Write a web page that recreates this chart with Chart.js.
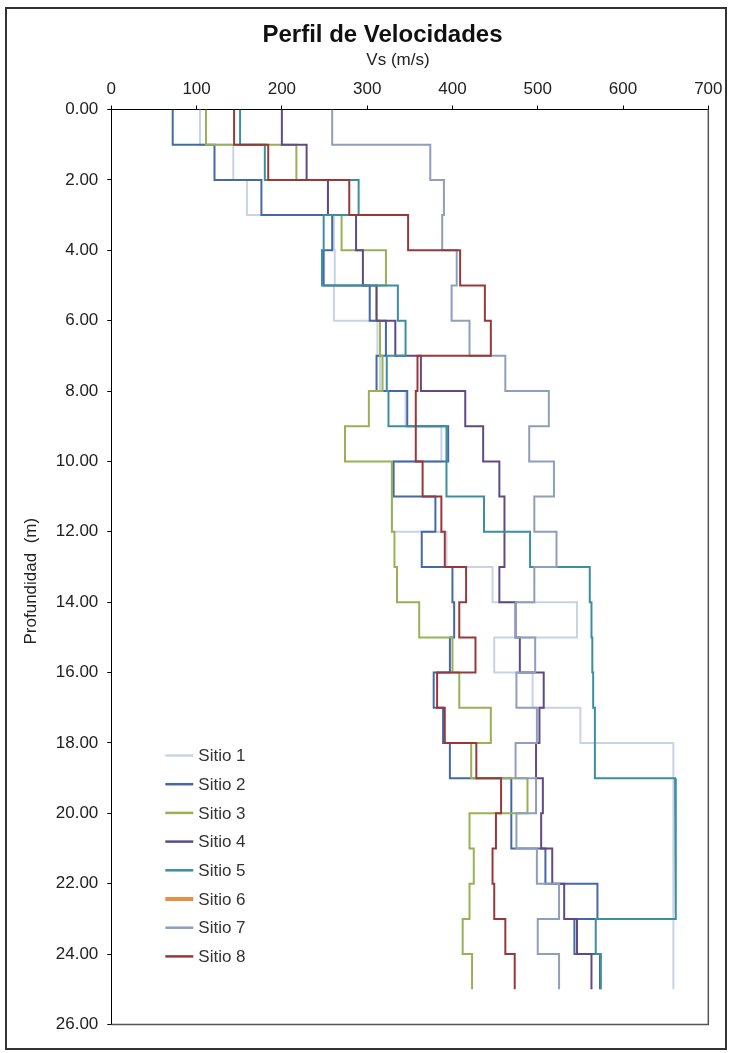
<!DOCTYPE html>
<html>
<head>
<meta charset="utf-8">
<title>Perfil de Velocidades</title>
<script src="https://cdn.jsdelivr.net/npm/chart.js@4/dist/chart.umd.min.js"></script>
<style>
    html, body { margin: 0; padding: 0; background: #fff; }
    #chart { display: block; }
</style>
</head>
<body>
<canvas id="chart" width="730" height="1053"></canvas>
<script>
// layer tops/bottoms (m), one Vs value per 1 m layer
const depths = [0, 1, 2, 3, 4, 5, 6, 7, 8, 9, 10, 11, 12, 13, 14, 15, 16, 17, 18, 19, 20, 21, 22, 23, 24, 25];

const sitio1 = [104, 143, 159, 261, 262, 261, 312, 315, 345, 387, 329, 329, 393, 447, 546, 449, 494, 550, 659, 659, 659, 659, 659, 659, 659];
const sitio2 = [72, 121, 176, 259, 249, 303, 322, 311, 347, 395, 331, 380, 364, 400, 402, 397, 378, 389, 397, 469, 469, 509, 570, 543, 573];
const sitio3 = [111, 217, 254, 270, 322, 311, 315, 318, 302, 274, 329, 329, 332, 335, 361, 400, 408, 445, 422, 488, 420, 425, 420, 412, 423];
const sitio4 = [200, 229, 254, 287, 295, 311, 333, 363, 415, 436, 455, 461, 461, 455, 474, 479, 507, 502, 498, 506, 504, 517, 531, 546, 563];
const sitio5 = [151, 180, 290, 249, 247, 336, 345, 323, 325, 393, 393, 437, 491, 561, 563, 564, 565, 567, 567, 661, 662, 662, 662, 568, 574];
const sitio6 = [];
const sitio7 = [259, 374, 390, 388, 405, 399, 420, 462, 513, 490, 519, 496, 522, 496, 474, 497, 475, 499, 474, 498, 475, 499, 525, 500, 525];
const sitio8 = [144, 184, 279, 348, 409, 438, 445, 359, 357, 357, 365, 387, 391, 416, 408, 427, 382, 391, 428, 457, 451, 447, 449, 462, 473];

const siteNames = ["Sitio 1", "Sitio 2", "Sitio 3", "Sitio 4", "Sitio 5", "Sitio 6", "Sitio 7", "Sitio 8"];
const siteColors = ["#c8d4e5", "#4568a6", "#98b154", "#5f4a86", "#3b8f9f", "#e39146", "#8d9fbc", "#983838"];
const siteValues = [sitio1, sitio2, sitio3, sitio4, sitio5, sitio6, sitio7, sitio8];

const xTicks = { min: 0, max: 700, step: 100 };
const yTicks = { min: 0, max: 26, step: 2 };

const family = "'Liberation Sans', Arial, sans-serif";
const textSize = 17;
const pad = n => "\u00a0".repeat(n);

// stepped profile: each layer becomes a vertical segment
function profile(values) {
    let points = [];
    values.forEach((v, i) => {
        points.push({ x: v, y: depths[i] });
        points.push({ x: v, y: depths[i + 1] });
    });
    return points;
}

const frame = {
    id: "frame",
    beforeDraw(chart) {
        let ctx = chart.ctx;
        ctx.save();
        ctx.strokeStyle = "#333";
        ctx.lineWidth = 2;
        ctx.strokeRect(6, 8, 720, 1041);
        ctx.restore();
    },
    afterDatasetsDraw(chart) {
        let { ctx, chartArea } = chart;
        ctx.save();
        ctx.strokeStyle = "#555";
        ctx.lineWidth = 1.5;
        ctx.beginPath();
        ctx.moveTo(chartArea.right, chartArea.top);
        ctx.lineTo(chartArea.right, chartArea.bottom);
        ctx.lineTo(chartArea.left, chartArea.bottom);
        ctx.stroke();
        ctx.restore();
    }
};

// legend sits inside the plot, lower left
const insideLegend = {
    id: "insideLegend",
    afterDraw(chart) {
        let { ctx, chartArea } = chart;
        let x0 = chartArea.left + 54;
        let y0 = chartArea.top + 646;
        let rowGap = 28.7;
        ctx.save();
        ctx.font = `${textSize}px ${family}`;
        ctx.textBaseline = "middle";
        ctx.textAlign = "left";
        chart.data.datasets.forEach((ds, i) => {
            let y = y0 + i * rowGap;
            ctx.strokeStyle = ds.borderColor;
            ctx.lineWidth = ds.label === "Sitio 6" ? 4 : 2.5;
            ctx.beginPath();
            ctx.moveTo(x0, y);
            ctx.lineTo(x0 + 28, y);
            ctx.stroke();
            ctx.fillStyle = "#333";
            ctx.fillText(ds.label, x0 + 33, y + 1);
        });
        ctx.restore();
    }
};

const datasets = siteNames.map((name, i) => ({
    label: name,
    data: profile(siteValues[i]),
    borderColor: siteColors[i],
    backgroundColor: siteColors[i],
    borderWidth: i === 5 ? 3 : 2,
    pointRadius: 0,
    tension: 0,
    fill: false,
    order: siteNames.length - i
}));

new Chart(document.getElementById("chart"), {
    type: "line",
    data: { datasets: datasets },
    plugins: [frame, insideLegend],
    options: {
        responsive: false,
        animation: false,
        layout: { padding: { left: 16, right: 21, top: 0, bottom: 28.5 } },
        plugins: {
            legend: { display: false },
            tooltip: { enabled: false },
            title: {
                display: true,
                text: pad(6) + "Perfil de Velocidades",
                color: "#111",
                font: { family: family, size: 24, weight: "bold", lineHeight: 1 },
                padding: { top: 23.5, bottom: 0 }
            }
        },
        scales: {
            x: {
                type: "linear",
                position: "top",
                min: xTicks.min,
                max: xTicks.max,
                ticks: {
                    stepSize: xTicks.step,
                    color: "#222",
                    padding: 7.5,
                    font: { family: family, size: textSize, lineHeight: 1 }
                },
                grid: { drawOnChartArea: false, tickLength: 4, color: "#000" },
                border: { color: "#000", width: 1 },
                title: {
                    display: true,
                    text: "Vs (m/s)" + pad(5),
                    color: "#222",
                    padding: { top: 4.5, bottom: 0 },
                    font: { family: family, size: textSize, lineHeight: 1 }
                },
                afterFit: scale => { scale.height = 62; }
            },
            y: {
                type: "linear",
                reverse: true,
                min: yTicks.min,
                max: yTicks.max,
                ticks: {
                    stepSize: yTicks.step,
                    color: "#222",
                    padding: 9,
                    font: { family: family, size: textSize, lineHeight: 1 },
                    callback: v => v.toFixed(2)
                },
                grid: { drawOnChartArea: false, tickLength: 4, color: "#000" },
                border: { color: "#000", width: 1 },
                title: {
                    display: true,
                    text: "Profundidad  (m)" + pad(6),
                    color: "#222",
                    padding: { top: 7, bottom: 0 },
                    font: { family: family, size: textSize, lineHeight: 1 }
                },
                afterFit: scale => { scale.width = 95.3; }
            }
        }
    }
});
</script>
</body>
</html>
